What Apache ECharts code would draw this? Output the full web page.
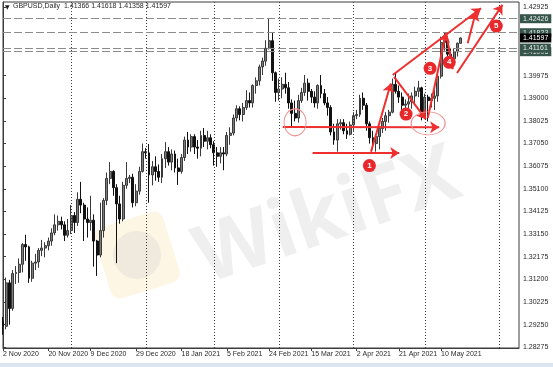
<!DOCTYPE html>
<html>
<head>
<meta charset="utf-8">
<script src="https://cdn.jsdelivr.net/npm/echarts@6/dist/echarts.min.js"></script>
<style>
html,body{margin:0;padding:0;background:#fff;}
#chart{width:553px;height:367px;}
</style>
</head>
<body>
<div id="chart"></div>
<script>
// ---------- DATA ----------
const symbolName = 'GBPUSD,Daily';
const firstDate = '2020-11-02';
const slotCount = 160; // daily slots incl. empty future area

const opens = [1.2940,1.2918,1.3105,1.2995,1.3145,1.3150,1.3185,1.3270,1.3260,1.3125,
1.3190,1.3195,1.3245,1.3255,1.3265,1.3285,1.3320,1.3355,1.3370,1.3355,
1.3310,1.3330,1.3395,1.3365,1.3465,1.3440,1.3380,1.3365,1.3375,1.3285,
1.3225,1.3330,1.3460,1.3555,1.3585,1.3515,1.3445,1.3380,1.3525,1.3555,
1.3560,1.3450,1.3500,1.3585,1.3670,1.3665,1.3570,1.3605,1.3585,1.3560,
1.3640,1.3670,1.3625,1.3660,1.3600,1.3585,1.3645,1.3720,1.3690,1.3735,
1.3690,1.3685,1.3740,1.3715,1.3730,1.3700,1.3665,1.3650,1.3665,1.3660,
1.3740,1.3750,1.3815,1.3855,1.3830,1.3860,1.3890,1.3880,1.3955,1.3975,
1.4035,1.4060,1.4115,1.4148,1.4010,1.3925,1.3940,1.3960,1.3945,1.3880,
1.3835,1.3815,1.3890,1.3925,1.3965,1.3930,1.3905,1.3880,1.3955,1.3920,
1.3880,1.3860,1.3755,1.3720,1.3790,1.3795,1.3760,1.3745,1.3785,1.3825,
1.3830,1.3900,1.3870,1.3790,1.3730,1.3705,1.3735,1.3770,1.3800,1.3825,
1.3840,1.3960,1.3930,1.3905,1.3870,1.3875,1.3885,1.3910,1.3930,1.3945,
1.3820,1.3905,1.3890,1.3900,1.3910,1.3995,1.4140,1.4150,1.4090,1.4070,
1.4100,1.41366];
const highs = [1.2958,1.3128,1.3118,1.3160,1.3177,1.3210,1.3276,1.3312,1.3265,1.3200,
1.3230,1.3255,1.3290,1.3280,1.3300,1.3340,1.3400,1.3395,1.3390,1.3370,
1.3380,1.3440,1.3410,1.3495,1.3540,1.3450,1.3430,1.3480,1.3400,1.3290,
1.3450,1.3470,1.3580,1.3625,1.3590,1.3530,1.3480,1.3540,1.3625,1.3570,
1.3575,1.3530,1.3605,1.3705,1.3685,1.3703,1.3630,1.3650,1.3615,1.3660,
1.3711,1.3690,1.3680,1.3675,1.3640,1.3660,1.3735,1.3755,1.3745,1.3745,
1.3720,1.3760,1.3772,1.3760,1.3745,1.3715,1.3690,1.3690,1.3690,1.3755,
1.3775,1.3830,1.3870,1.3865,1.3880,1.3935,1.3925,1.3960,1.3990,1.4045,
1.4075,1.4150,1.4245,1.4185,1.4015,1.3985,1.3990,1.4010,1.3970,1.3895,
1.3890,1.3915,1.3945,1.4000,1.3985,1.3940,1.3930,1.3960,1.4000,1.3940,
1.3905,1.3870,1.3790,1.3810,1.3810,1.3810,1.3790,1.3800,1.3840,1.3850,
1.3915,1.3925,1.3880,1.3800,1.3760,1.3745,1.3780,1.3815,1.3840,1.3850,
1.3985,1.4010,1.3955,1.3925,1.3895,1.3920,1.3925,1.3950,1.3975,1.3950,
1.3920,1.3915,1.3920,1.3935,1.4005,1.4165,1.4182,1.4165,1.4115,1.4115,
1.4140,1.41618];
const lows = [1.2882,1.2905,1.2925,1.2985,1.3100,1.3105,1.3150,1.3200,1.3105,1.3110,
1.3160,1.3170,1.3220,1.3215,1.3245,1.3265,1.3310,1.3330,1.3335,1.3285,
1.3300,1.3315,1.3320,1.3350,1.3405,1.3285,1.3300,1.3330,1.3175,1.3135,
1.3215,1.3300,1.3440,1.3530,1.3480,1.3190,1.3360,1.3370,1.3510,1.3535,
1.3430,1.3435,1.3485,1.3580,1.3640,1.3450,1.3525,1.3545,1.3540,1.3535,
1.3600,1.3610,1.3590,1.3580,1.3527,1.3575,1.3630,1.3660,1.3670,1.3660,
1.3640,1.3650,1.3690,1.3680,1.3685,1.3610,1.3605,1.3620,1.3590,1.3650,
1.3700,1.3740,1.3800,1.3805,1.3800,1.3850,1.3860,1.3860,1.3920,1.3955,
1.4000,1.4040,1.4110,1.3975,1.3885,1.3890,1.3900,1.3920,1.3855,1.3778,
1.3800,1.3795,1.3880,1.3910,1.3890,1.3880,1.3860,1.3855,1.3900,1.3870,
1.3825,1.3740,1.3700,1.3670,1.3765,1.3745,1.3725,1.3740,1.3760,1.3810,
1.3820,1.3850,1.3760,1.3705,1.3680,1.3670,1.3680,1.3750,1.3760,1.3795,
1.3835,1.3920,1.3880,1.3850,1.3840,1.3855,1.3855,1.3880,1.3905,1.3805,
1.3810,1.3800,1.3860,1.3850,1.3885,1.3985,1.4105,1.4080,1.4035,1.4050,
1.4080,1.41358];
const closes = [1.2918,1.3105,1.2995,1.3145,1.3150,1.3185,1.3270,1.3260,1.3125,1.3190,
1.3195,1.3245,1.3255,1.3265,1.3285,1.3320,1.3355,1.3370,1.3355,1.3310,
1.3330,1.3395,1.3365,1.3465,1.3440,1.3380,1.3365,1.3375,1.3285,1.3225,
1.3330,1.3460,1.3555,1.3585,1.3515,1.3445,1.3380,1.3525,1.3555,1.3560,
1.3450,1.3500,1.3585,1.3670,1.3665,1.3570,1.3605,1.3585,1.3560,1.3640,
1.3670,1.3625,1.3660,1.3600,1.3585,1.3645,1.3720,1.3690,1.3735,1.3690,
1.3685,1.3740,1.3715,1.3730,1.3700,1.3665,1.3650,1.3665,1.3660,1.3740,
1.3750,1.3815,1.3855,1.3830,1.3860,1.3890,1.3880,1.3955,1.3975,1.4035,
1.4060,1.4115,1.4148,1.4010,1.3925,1.3940,1.3960,1.3945,1.3880,1.3835,
1.3815,1.3890,1.3925,1.3965,1.3930,1.3905,1.3880,1.3955,1.3920,1.3880,
1.3860,1.3755,1.3720,1.3790,1.3795,1.3760,1.3745,1.3785,1.3825,1.3830,
1.3900,1.3870,1.3790,1.3730,1.3705,1.3735,1.3770,1.3800,1.3825,1.3840,
1.3960,1.3930,1.3905,1.3870,1.3875,1.3885,1.3910,1.3930,1.3945,1.3820,
1.3905,1.3890,1.3900,1.3910,1.3995,1.4140,1.4150,1.4090,1.4070,1.4100,
1.4137,1.41597];

const xLabelDates = ['2020-11-02','2020-11-20','2020-12-09','2020-12-29','2021-01-18',
  '2021-02-05','2021-02-24','2021-03-15','2021-04-02','2021-04-21','2021-05-10'];
const periodSeparators = ['2020-12-01','2021-01-01','2021-02-01','2021-03-01','2021-04-01','2021-05-03','2021-06-03'];
const yTickValues = [1.28275,1.29250,1.30225,1.31200,1.32175,1.33150,1.34125,1.35100,
  1.36075,1.37050,1.38025,1.39000,1.39975,1.42925];
const levelLines = [1.42426,1.41823,1.41006,1.41161];
const currentPrice = 1.41597;

// annotations in data space: [slotIndex, price]
const arrows = [
  {from:[95.4,1.3665], to:[122.1,1.3664], head:true},
  {from:[86.2,1.3776], to:[134.4,1.3775], head:true},
  {from:[113.4,1.3670], to:[119.5,1.3964], head:true},
  {from:[120.1,1.4000], to:[147.3,1.4288], head:true},
  {from:[120.5,1.3992], to:[130.3,1.3810], head:true},
  {from:[130.9,1.3815], to:[136.5,1.4181], head:true},
  {from:[136.6,1.4178], to:[138.6,1.4025], head:false},
  {from:[139.9,1.4009], to:[153.9,1.4302], head:true},
  {from:[143.2,1.4137], to:[145.7,1.4272], head:true}
];
const numberBadges = [
  {label:'1', at:[112.9,1.3610]},
  {label:'2', at:[124.2,1.3832]},
  {label:'3', at:[131.6,1.4029]},
  {label:'4', at:[137.5,1.4055]},
  {label:'5', at:[152.0,1.4211]}
];
const zoneCircles = [
  {at:[90.0,1.3796], size:[22,27]},
  {at:[131.0,1.3792], size:[34,23]}
];

// ---------- BUILD ----------
const MONTHS = ['Jan','Feb','Mar','Apr','May','Jun','Jul','Aug','Sep','Oct','Nov','Dec'];
const slots = [];
(function(){
  let d = new Date(firstDate + 'T00:00:00Z');
  while (slots.length < slotCount) {
    const wd = d.getUTCDay();
    if (wd !== 0 && wd !== 6) slots.push(d.toISOString().slice(0,10));
    d = new Date(d.getTime() + 86400000);
  }
})();
function fmtDate(s){
  const p = s.split('-');
  return (+p[2]) + ' ' + MONTHS[+p[1]-1] + ' ' + p[0];
}
const candles = opens.map((o,i)=>[o, closes[i], lows[i], highs[i]]);
const last = candles.length - 1;
const header = symbolName + '  ' + [opens[last], highs[last], lows[last], closes[last]].map(v=>v.toFixed(5)).join(' ');

const FONT = 'Liberation Sans';
const chart = echarts.init(document.getElementById('chart'), null, {renderer:'canvas'});

const levelData = levelLines.map(v => ({
  yAxis: v,
  lineStyle:{color:'#8c8c8c', type:[8,3], width:1},
  label:{show:true, position:'end', distance:1, formatter: v.toFixed(5),
    color:'#e8ece9', backgroundColor:'#35544a', padding:[1,3,0,3],
    fontFamily:FONT, fontSize:7, lineHeight:8}
}));
levelData.push({
  yAxis: currentPrice,
  lineStyle:{color:'rgba(0,0,0,0)', width:1, type:'solid'},
  label:{show:true, position:'end', distance:1, formatter: currentPrice.toFixed(5),
    color:'#ffffff', backgroundColor:'#000000', padding:[1,3,0,3],
    fontFamily:FONT, fontSize:7, lineHeight:8}
});
const sepData = periodSeparators.map(d => ({
  xAxis: d,
  lineStyle:{color:'#3a3a3a', type:[1,2], width:1},
  label:{show:false}
}));

const arrowData = arrows.map(a => [
  {coord:a.from, symbol:'none'},
  {coord:a.to, symbol: a.head ? 'arrow' : 'none'}
]);
const badgeData = numberBadges.map(b => ({
  coord:b.at, value:b.label, symbol:'circle', symbolSize:13,
  itemStyle:{color:'#e8282b'},
  label:{show:true, position:'inside', formatter:b.label, color:'#fff', fontWeight:'bold', fontSize:8, fontFamily:FONT}
}));
const circleData = zoneCircles.map(c => ({
  coord:c.at, symbol:'circle', symbolSize:c.size,
  itemStyle:{color:'rgba(0,0,0,0)', borderColor:'#f08c8c', borderWidth:1},
  label:{show:false}
}));

const option = {
  animation:false,
  backgroundColor:'#ffffff',
  grid:{left:2, right:34, top:2, bottom:19, show:true, borderColor:'#3c3c3c', borderWidth:1, backgroundColor:'transparent'},
  xAxis:[{
    type:'category', data:slots, boundaryGap:false,
    axisLine:{show:true, lineStyle:{color:'#3c3c3c'}},
    axisTick:{show:true, length:3, lineStyle:{color:'#3c3c3c'}, interval:(i,v)=>xLabelDates.indexOf(v)>=0},
    axisLabel:{show:true, interval:(i,v)=>xLabelDates.indexOf(v)>=0, formatter:v=>fmtDate(v),
      align:'left', margin:3, color:'#2a2a2a', fontFamily:FONT, fontSize:7, hideOverlap:false},
    splitLine:{show:false}
  },{
    type:'value', min:0, max:slotCount-1, show:false
  }],
  yAxis:{
    type:'value', position:'right', min:1.28245, max:1.43146,
    axisLine:{show:true, lineStyle:{color:'#3c3c3c'}},
    axisTick:{show:true, length:3, customValues:yTickValues, lineStyle:{color:'#3c3c3c'}},
    axisLabel:{show:true, customValues:yTickValues, formatter:v=>v.toFixed(5), margin:4,
      color:'#2a2a2a', fontFamily:FONT, fontSize:7},
    splitLine:{show:false}
  },
  graphic:[
    {type:'group', z:-10, silent:true, children:[
      {type:'rect', x:137, y:255, rotation:0.3, shape:{x:-36, y:-37, width:72, height:74, r:10},
        style:{fill:'rgba(252,236,196,0.45)'}},
      {type:'circle', x:137, y:255, shape:{cx:0, cy:0, r:24}, style:{fill:'rgba(205,205,205,0.3)'}},
      {type:'text', x:328, y:218, rotation:0.33,
        style:{text:'WikiFX', font:'bold 80px "Open Sans"', fill:'rgba(215,215,215,0.4)', textAlign:'center', textVerticalAlign:'middle'}}
    ]},
    {type:'text', x:5, y:4, style:{text:'\u25BC', font:'6px "DejaVu Sans"', fill:'#222'}},
    {type:'text', x:13, y:3, style:{text:header, font:'7px "Liberation Sans"', fill:'#2a2a2a'}},
    {type:'rect', x:0, y:363, shape:{width:553, height:4}, style:{fill:'#dbe5ef'}}
  ],
  series:[{
    type:'candlestick', name:'GBPUSD', data:candles, barWidth:2.4,
    itemStyle:{color:'#7c7c7c', borderColor:'#3a3a3a', color0:'#111111', borderColor0:'#111111', borderWidth:1},
    emphasis:{disabled:true},
    markLine:{silent:true, precision:5, symbol:['none','none'], animation:false, data: sepData.concat(levelData)}
  },{
    type:'line', name:'annotations', xAxisIndex:1, yAxisIndex:0, data:[], silent:true,
    markLine:{silent:true, precision:5, animation:false, symbol:['none','arrow'], symbolSize:9,
      lineStyle:{color:'#ee2f2f', width:2, type:'solid'}, label:{show:false}, data:arrowData},
    markPoint:{silent:true, animation:false, data: circleData.concat(badgeData)}
  }]
};
chart.setOption(option);
</script>
</body>
</html>
